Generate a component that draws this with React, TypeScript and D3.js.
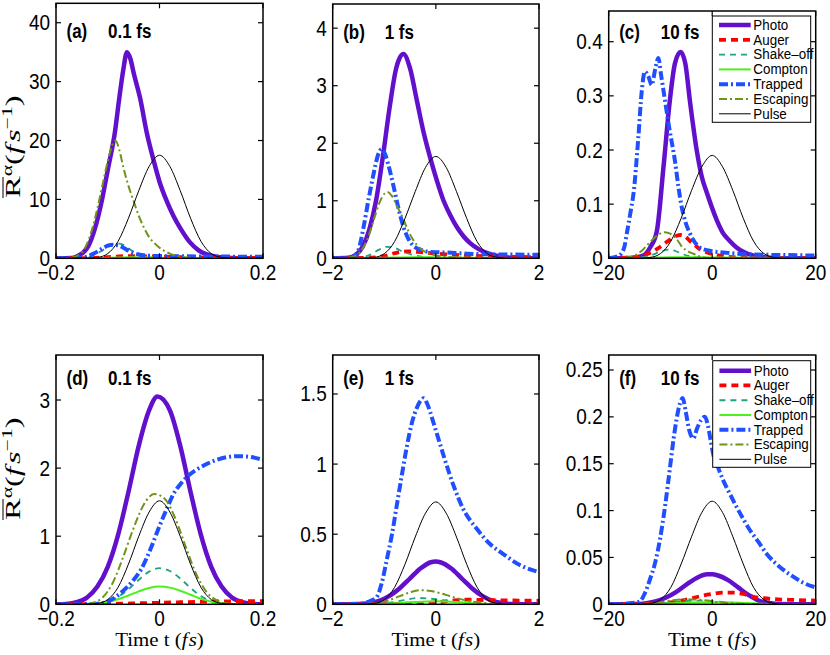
import React from 'react';
import * as d3 from 'd3';

type Pt = [number, number];

// ---------- series names ----------
const seriesNames = ['Photo', 'Auger', 'Shake\u2013off', 'Compton', 'Trapped', 'Escaping', 'Pulse'];

// ---------- panel (a) 0.1 fs ----------
const photoA: Pt[] = [[-0.2,0],[-0.17,0.05],[-0.16,0.3],[-0.145,1.2],[-0.138,2],[-0.125,5],[-0.111,10],[-0.1,15],[-0.086,21.5],[-0.078,27],[-0.07,32],[-0.063,35],[-0.056,33.8],[-0.05,31.5],[-0.037,27],[-0.025,21.5],[-0.011,16.5],[0,13],[0.015,9.5],[0.027,7.2],[0.041,5],[0.059,2.7],[0.075,1.4],[0.09,0.7],[0.11,0.25],[0.13,0.08],[0.15,0.02],[0.2,0]];
const augerA: Pt[] = [[-0.2,0],[-0.14,0.02],[-0.1,0.2],[-0.07,0.35],[-0.04,0.35],[0,0.28],[0.05,0.2],[0.1,0.12],[0.2,0.05]];
const shakeA: Pt[] = [[-0.2,0],[-0.15,0.05],[-0.13,0.4],[-0.115,1.1],[-0.1,1.9],[-0.09,2.4],[-0.08,2.55],[-0.07,2.3],[-0.06,1.7],[-0.05,1.1],[-0.04,0.6],[-0.03,0.3],[-0.015,0.12],[0,0.05],[0.05,0],[0.2,0]];
const comptonA: Pt[] = [[-0.2,0],[-0.12,0.02],[-0.08,0.12],[-0.05,0.16],[-0.02,0.12],[0.02,0.06],[0.06,0.02],[0.2,0]];
const trappedA: Pt[] = [[-0.2,0],[-0.16,0.05],[-0.14,0.3],[-0.125,0.9],[-0.11,1.7],[-0.1,2.15],[-0.09,2.3],[-0.08,2.2],[-0.07,1.8],[-0.06,1.3],[-0.05,0.9],[-0.04,0.65],[-0.03,0.5],[-0.015,0.42],[0,0.38],[0.05,0.33],[0.1,0.3],[0.15,0.28],[0.2,0.27]];
const escapeA: Pt[] = [[-0.2,0],[-0.17,0.1],[-0.15,1],[-0.14,2.5],[-0.13,5],[-0.12,8.5],[-0.11,12.5],[-0.1,16.5],[-0.09,19.5],[-0.085,20],[-0.078,18.5],[-0.07,15.5],[-0.06,12.3],[-0.05,9.7],[-0.04,7.2],[-0.03,5.2],[-0.02,3.6],[-0.01,2.6],[0,1.8],[0.02,0.8],[0.04,0.3],[0.07,0.05],[0.2,0]];
const pulseA: Pt[] = [[-0.2,0],[-0.14,0.02],[-0.12,0.15],[-0.1,0.8],[-0.08,2.9],[-0.06,6.8],[-0.04,11.5],[-0.02,15.6],[0,17.5],[0.02,15.6],[0.04,11.5],[0.06,6.8],[0.08,2.9],[0.1,0.8],[0.12,0.15],[0.14,0.02],[0.2,0]];

// ---------- panel (b) 1 fs ----------
const photoB: Pt[] = [[-2,0],[-1.7,0.01],[-1.55,0.06],[-1.42,0.2],[-1.29,0.5],[-1.16,1.0],[-1.03,1.75],[-0.9,2.6],[-0.77,3.3],[-0.63,3.55],[-0.5,3.3],[-0.37,2.75],[-0.24,2.2],[-0.11,1.75],[0.02,1.35],[0.15,1.0],[0.28,0.75],[0.41,0.54],[0.54,0.38],[0.67,0.26],[0.83,0.16],[1.0,0.09],[1.2,0.04],[1.4,0.015],[1.7,0.004],[2,0]];
const augerB: Pt[] = [[-2,0],[-1.3,0.01],[-1.0,0.04],[-0.75,0.1],[-0.55,0.12],[-0.35,0.11],[-0.1,0.09],[0.2,0.07],[0.6,0.05],[1.0,0.035],[1.5,0.025],[2,0.02]];
const shakeB: Pt[] = [[-2,0],[-1.5,0.01],[-1.3,0.05],[-1.1,0.15],[-0.95,0.2],[-0.8,0.18],[-0.6,0.1],[-0.4,0.05],[-0.2,0.02],[0.2,0.005],[2,0]];
const comptonB: Pt[] = [[-2,0],[-1.2,0.005],[-0.8,0.015],[-0.4,0.02],[0,0.015],[0.6,0.008],[2,0.003]];
const trappedB: Pt[] = [[-2,0],[-1.7,0.005],[-1.6,0.03],[-1.5,0.15],[-1.4,0.55],[-1.3,1.05],[-1.2,1.5],[-1.12,1.8],[-1.05,1.9],[-0.98,1.8],[-0.9,1.55],[-0.82,1.25],[-0.72,0.85],[-0.63,0.55],[-0.54,0.35],[-0.44,0.22],[-0.3,0.15],[-0.1,0.11],[0.2,0.1],[0.6,0.08],[1.0,0.07],[1.5,0.065],[2,0.06]];
const escapeB: Pt[] = [[-2,0],[-1.7,0.01],[-1.55,0.05],[-1.4,0.2],[-1.3,0.4],[-1.2,0.68],[-1.1,0.95],[-1.0,1.12],[-0.93,1.15],[-0.85,1.08],[-0.75,0.9],[-0.63,0.68],[-0.53,0.47],[-0.44,0.32],[-0.3,0.17],[-0.18,0.1],[0,0.05],[0.3,0.02],[0.7,0.01],[2,0]];
const pulseB: Pt[] = [[-2,0],[-1.4,0.002],[-1.2,0.015],[-1.0,0.08],[-0.8,0.29],[-0.6,0.69],[-0.4,1.16],[-0.2,1.58],[0,1.77],[0.2,1.58],[0.4,1.16],[0.6,0.69],[0.8,0.29],[1.0,0.08],[1.2,0.015],[1.4,0.002],[2,0]];

// ---------- panel (c) 10 fs ----------
const photoC: Pt[] = [[-20,0],[-15,0.001],[-13.3,0.005],[-12,0.02],[-10.7,0.05],[-9.4,0.17],[-8.2,0.29],[-7.2,0.36],[-6.1,0.381],[-5.2,0.36],[-4.3,0.29],[-3,0.2],[-2,0.15],[-1,0.12],[0.9,0.07],[2,0.048],[3.4,0.032],[4.7,0.02],[6,0.012],[8,0.005],[10,0.002],[13,0],[20,0]];
const augerC: Pt[] = [[-20,0],[-15,0.002],[-12.5,0.008],[-10.7,0.017],[-8.8,0.03],[-7.3,0.04],[-6.2,0.043],[-5.2,0.04],[-4.3,0.032],[-3.3,0.024],[-2.4,0.017],[-1,0.011],[0.9,0.006],[3,0.003],[6,0.001],[20,0]];
const shakeC: Pt[] = [[-20,0],[-14,0.001],[-12,0.005],[-10,0.012],[-8.5,0.016],[-7,0.013],[-5.5,0.007],[-4,0.003],[-2,0.001],[20,0]];
const comptonC: Pt[] = [[-20,0],[-12,0.001],[-8,0.002],[-4,0.002],[0,0.0015],[20,0.0005]];
const trappedC: Pt[] = [[-20,0],[-18,0.005],[-17,0.02],[-16.5,0.046],[-15.7,0.09],[-15.2,0.12],[-14.3,0.22],[-13.6,0.31],[-13,0.345],[-12.3,0.335],[-11.7,0.32],[-11,0.35],[-10.4,0.37],[-9.9,0.34],[-9.1,0.29],[-8.2,0.235],[-7.2,0.18],[-6.5,0.13],[-5.9,0.095],[-5.1,0.065],[-4.3,0.046],[-2.7,0.022],[-1,0.015],[3,0.01],[8,0.007],[14,0.006],[20,0.005]];
const escapeC: Pt[] = [[-20,0],[-17,0.001],[-15,0.005],[-13.5,0.015],[-12,0.03],[-10.5,0.043],[-9.2,0.048],[-8,0.045],[-7,0.037],[-5.8,0.021],[-4.5,0.012],[-3,0.006],[-2,0.002],[0,0],[20,0]];
const pulseC: Pt[] = [[-20,0],[-14,0.0002],[-12,0.0016],[-10,0.0087],[-8,0.0315],[-6,0.074],[-4,0.125],[-2,0.169],[0,0.19],[2,0.169],[4,0.125],[6,0.074],[8,0.0315],[10,0.0087],[12,0.0016],[14,0.0002],[20,0]];

// ---------- panel (d) 0.1 fs ----------
const photoD: Pt[] = [[-0.2,0],[-0.18,0.005],[-0.16,0.03],[-0.14,0.1],[-0.12,0.26],[-0.1,0.55],[-0.08,1.02],[-0.06,1.65],[-0.04,2.33],[-0.02,2.85],[-0.004,3.05],[0.02,2.85],[0.04,2.33],[0.06,1.65],[0.08,1.02],[0.1,0.55],[0.12,0.26],[0.14,0.1],[0.16,0.03],[0.18,0.005],[0.2,0]];
const augerD: Pt[] = [[-0.2,0],[-0.12,0.002],[-0.08,0.008],[-0.04,0.015],[0,0.022],[0.04,0.03],[0.08,0.038],[0.12,0.043],[0.16,0.045],[0.2,0.046]];
const shakeD: Pt[] = [[-0.2,0],[-0.14,0.002],[-0.12,0.01],[-0.1,0.04],[-0.08,0.11],[-0.06,0.22],[-0.04,0.36],[-0.02,0.48],[0,0.53],[0.02,0.49],[0.04,0.38],[0.06,0.24],[0.08,0.12],[0.1,0.05],[0.12,0.015],[0.14,0.003],[0.2,0]];
const comptonD: Pt[] = [[-0.2,0],[-0.14,0.003],[-0.12,0.012],[-0.1,0.035],[-0.08,0.075],[-0.06,0.13],[-0.04,0.19],[-0.02,0.24],[0,0.26],[0.02,0.245],[0.04,0.2],[0.06,0.14],[0.08,0.08],[0.1,0.038],[0.12,0.014],[0.14,0.004],[0.2,0]];
const trappedD: Pt[] = [[-0.2,0],[-0.14,0.003],[-0.12,0.01],[-0.1,0.04],[-0.076,0.16],[-0.05,0.36],[-0.035,0.52],[-0.018,0.8],[0,1.15],[0.015,1.42],[0.027,1.62],[0.04,1.76],[0.053,1.87],[0.07,1.97],[0.091,2.06],[0.11,2.12],[0.13,2.16],[0.15,2.175],[0.168,2.17],[0.185,2.15],[0.2,2.12]];
const escapeD: Pt[] = [[-0.2,0],[-0.15,0.002],[-0.13,0.02],[-0.11,0.1],[-0.09,0.32],[-0.07,0.7],[-0.05,1.12],[-0.03,1.47],[-0.01,1.62],[0.01,1.55],[0.03,1.27],[0.05,0.86],[0.07,0.46],[0.09,0.19],[0.11,0.06],[0.13,0.01],[0.2,0]];
const pulseD: Pt[] = [[-0.2,0],[-0.14,0.002],[-0.12,0.013],[-0.1,0.07],[-0.08,0.25],[-0.06,0.59],[-0.04,1.0],[-0.02,1.355],[0,1.52],[0.02,1.355],[0.04,1.0],[0.06,0.59],[0.08,0.25],[0.1,0.07],[0.12,0.013],[0.14,0.002],[0.2,0]];

// ---------- panel (e) 1 fs ----------
const photoE: Pt[] = [[-2,0],[-1.5,0.002],[-1.3,0.008],[-1.1,0.025],[-0.9,0.06],[-0.7,0.115],[-0.5,0.185],[-0.3,0.255],[-0.1,0.3],[0,0.305],[0.1,0.298],[0.3,0.255],[0.5,0.185],[0.7,0.115],[0.9,0.06],[1.1,0.025],[1.3,0.008],[1.5,0.002],[2,0]];
const augerE: Pt[] = [[-2,0],[-1.0,0.001],[-0.5,0.005],[0,0.013],[0.3,0.025],[0.6,0.033],[1.0,0.03],[1.5,0.027],[2,0.025]];
const shakeE: Pt[] = [[-2,0],[-1.2,0.002],[-0.9,0.012],[-0.6,0.03],[-0.35,0.045],[-0.1,0.04],[0.2,0.025],[0.5,0.012],[0.8,0.004],[1.2,0.001],[2,0]];
const comptonE: Pt[] = [[-2,0],[-1.2,0.001],[-0.8,0.007],[-0.4,0.017],[0,0.022],[0.4,0.017],[0.8,0.007],[1.2,0.001],[2,0]];
const trappedE: Pt[] = [[-2,0],[-1.5,0.003],[-1.3,0.02],[-1.15,0.05],[-1.05,0.15],[-0.95,0.32],[-0.85,0.5],[-0.76,0.7],[-0.66,0.92],[-0.56,1.13],[-0.46,1.3],[-0.37,1.4],[-0.28,1.46],[-0.24,1.47],[-0.18,1.44],[-0.05,1.3],[0.05,1.18],[0.15,1.06],[0.34,0.85],[0.53,0.68],[0.79,0.54],[1.05,0.43],[1.3,0.36],[1.63,0.28],[2,0.23]];
const escapeE: Pt[] = [[-2,0],[-1.4,0.002],[-1.1,0.012],[-0.9,0.03],[-0.7,0.058],[-0.5,0.085],[-0.3,0.1],[-0.1,0.095],[0.1,0.078],[0.3,0.055],[0.5,0.035],[0.7,0.02],[0.9,0.01],[1.2,0.003],[2,0]];
const pulseE: Pt[] = [[-2,0],[-1.4,0.001],[-1.2,0.006],[-1.0,0.033],[-0.8,0.121],[-0.6,0.284],[-0.4,0.48],[-0.2,0.65],[0,0.73],[0.2,0.65],[0.4,0.48],[0.6,0.284],[0.8,0.121],[1.0,0.033],[1.2,0.006],[1.4,0.001],[2,0]];

// ---------- panel (f) 10 fs ----------
const photoF: Pt[] = [[-20,0],[-15,0.0003],[-13,0.001],[-11,0.003],[-9,0.007],[-7,0.013],[-5,0.021],[-3,0.028],[-1,0.032],[0,0.032],[1,0.031],[3,0.026],[5,0.018],[7,0.01],[9,0.004],[11,0.0015],[13,0.0004],[20,0]];
const augerF: Pt[] = [[-20,0],[-12,0.0005],[-8,0.002],[-5,0.005],[-2,0.009],[0,0.011],[2,0.0125],[4,0.0125],[6,0.011],[8,0.008],[10,0.0065],[12,0.0055],[15,0.0048],[20,0.004]];
const shakeF: Pt[] = [[-20,0],[-12,0.0005],[-8,0.002],[-5,0.0035],[-2,0.004],[0,0.0035],[3,0.002],[6,0.0008],[10,0.0002],[20,0]];
const comptonF: Pt[] = [[-20,0],[-12,0.0003],[-8,0.001],[-4,0.002],[0,0.0022],[4,0.002],[8,0.001],[12,0.0003],[20,0]];
const trappedF: Pt[] = [[-20,0],[-16,0.001],[-14,0.003],[-13,0.012],[-12,0.027],[-11,0.045],[-10.1,0.069],[-9.1,0.105],[-8.2,0.144],[-7.5,0.175],[-6.9,0.197],[-6.2,0.215],[-5.7,0.22],[-5.1,0.205],[-4.4,0.185],[-3.65,0.177],[-2.9,0.188],[-2.1,0.197],[-1.4,0.2],[-0.8,0.19],[-0.3,0.175],[0.2,0.16],[1.2,0.145],[2.15,0.132],[3.4,0.118],[4.7,0.104],[6,0.091],[7.3,0.079],[9,0.066],[10.5,0.054],[12,0.045],[13.7,0.037],[15.5,0.03],[17.6,0.023],[20,0.018]];
const escapeF: Pt[] = [[-20,0],[-14,0.0003],[-11,0.0015],[-8,0.004],[-5,0.0055],[-3,0.005],[-1,0.004],[1,0.0025],[3,0.0015],[6,0.0005],[20,0]];
const pulseF: Pt[] = [[-20,0],[-14,0.0001],[-12,0.0009],[-10,0.005],[-8,0.018],[-6,0.043],[-4,0.072],[-2,0.098],[0,0.11],[2,0.098],[4,0.072],[6,0.043],[8,0.018],[10,0.005],[12,0.0009],[14,0.0001],[20,0]];

// ---------- ticks ----------
const xTicks01 = [-0.2, 0, 0.2];
const xTicks1 = [-2, 0, 2];
const xTicks10 = [-20, 0, 20];
const yTicksA = [0, 10, 20, 30, 40];
const yTicksB = [0, 1, 2, 3, 4];
const yTicksC = [0, 0.1, 0.2, 0.3, 0.4];
const yTicksD = [0, 1, 2, 3];
const yTicksE = [0, 0.5, 1, 1.5];
const yTicksF = [0, 0.05, 0.1, 0.15, 0.2, 0.25];

const panelTags = ['(a)', '(b)', '(c)', '(d)', '(e)', '(f)'];
const durations = ['0.1 fs', '1 fs', '10 fs', '0.1 fs', '1 fs', '10 fs'];

// ---------- styles ----------
const seriesStyles = [
  { color: '#6210cc', width: 4.5, dash: '' },
  { color: '#ff0000', width: 3.8, dash: '7,5' },
  { color: '#1fa382', width: 1.8, dash: '6,5' },
  { color: '#4cf01a', width: 2, dash: '' },
  { color: '#1f4fff', width: 4, dash: '9,3,2,3' },
  { color: '#6f9418', width: 2, dash: '8,3,2,3' },
  { color: '#000000', width: 1, dash: '' },
];

type Legend = { x0: number; x1: number; y0: number; y1: number; r0: number; dr: number };

const panels = [
  { x0: 56, x1: 263, yb: 258.3, yt: 3.3, xd: [-0.2, 0.2], ytop: 43.3, xt: xTicks01, yt2: yTicksA, data: [photoA, augerA, shakeA, comptonA, trappedA, escapeA, pulseA], titleY: 38, legend: null as null | Legend },
  { x0: 332.7, x1: 539, yb: 258.3, yt: 4, xd: [-2, 2], ytop: 4.42, xt: xTicks1, yt2: yTicksB, data: [photoB, augerB, shakeB, comptonB, trappedB, escapeB, pulseB], titleY: 39.3, legend: null as null | Legend },
  { x0: 608.7, x1: 815.7, yb: 258.3, yt: 11, xd: [-20, 20], ytop: 0.4567, xt: xTicks10, yt2: yTicksC, data: [photoC, augerC, shakeC, comptonC, trappedC, escapeC, pulseC], titleY: 39.3, legend: { x0: 712.3, x1: 810.7, y0: 16, y1: 122.3, r0: 25, dr: 14.8 } as null | Legend },
  { x0: 56, x1: 263, yb: 604.3, yt: 355, xd: [-0.2, 0.2], ytop: 3.661, xt: xTicks01, yt2: yTicksD, data: [photoD, augerD, shakeD, comptonD, trappedD, escapeD, pulseD], titleY: 385, legend: null as null | Legend },
  { x0: 332.7, x1: 539, yb: 604.3, yt: 355, xd: [-2, 2], ytop: 1.778, xt: xTicks1, yt2: yTicksE, data: [photoE, augerE, shakeE, comptonE, trappedE, escapeE, pulseE], titleY: 385, legend: null as null | Legend },
  { x0: 608.7, x1: 815.7, yb: 604.3, yt: 355, xd: [-20, 20], ytop: 0.266, xt: xTicks10, yt2: yTicksF, data: [photoF, augerF, shakeF, comptonF, trappedF, escapeF, pulseF], titleY: 385, legend: { x0: 712.7, x1: 810.7, y0: 360.7, y1: 467.3, r0: 370.7, dr: 14.77 } as null | Legend },
];

const fmt = (v: number) => String(v).replace('-', '\u2212');
const sans = '"Liberation Sans", Arial, Helvetica, sans-serif';
const serif = '"Liberation Serif", "Times New Roman", serif';

// text that is slightly stretched vertically, like the original figure
function SText({ x, y, k = 1.12, children, ...rest }: any) {
  return (
    <text transform={`translate(${x},${y}) scale(1,${k})`} x={0} y={0} {...rest}>{children}</text>
  );
}

function Panel({ p, idx }: { p: typeof panels[number]; idx: number }) {
  const xs = d3.scaleLinear().domain(p.xd).range([p.x0, p.x1]);
  const ys = d3.scaleLinear().domain([0, p.ytop]).range([p.yb, p.yt]);
  const line = d3.line<Pt>().x(d => xs(d[0])).y(d => ys(d[1])).curve(d3.curveMonotoneX);
  const clipId = `clip${idx}`;
  const tl = 5;
  const lg = p.legend;
  return (
    <g>
      <defs>
        <clipPath id={clipId}>
          <rect x={p.x0} y={p.yt} width={p.x1 - p.x0} height={p.yb - p.yt} />
        </clipPath>
      </defs>
      <rect x={p.x0} y={p.yt} width={p.x1 - p.x0} height={p.yb - p.yt} fill="#fff" />
      <g clipPath={`url(#${clipId})`}>
        {p.data.map((d, i) => (
          <path key={i} d={line(d) || ''} fill="none" stroke={seriesStyles[i].color}
            strokeWidth={seriesStyles[i].width} strokeDasharray={seriesStyles[i].dash || undefined}
            strokeLinejoin="round" />
        ))}
      </g>
      {p.yt2.map(v => (
        <g key={'y' + v}>
          <line x1={p.x0} x2={p.x0 + tl} y1={ys(v)} y2={ys(v)} stroke="#000" strokeWidth={1.2} />
          <line x1={p.x1} x2={p.x1 - tl} y1={ys(v)} y2={ys(v)} stroke="#000" strokeWidth={1.2} />
          <SText x={p.x0 - 6} y={ys(v) + 7.5} textAnchor="end" fontFamily={sans} fontSize={19}>{fmt(v)}</SText>
        </g>
      ))}
      {p.xt.map(v => (
        <g key={'x' + v}>
          <line x1={xs(v)} x2={xs(v)} y1={p.yb} y2={p.yb - tl} stroke="#000" strokeWidth={1.2} />
          <line x1={xs(v)} x2={xs(v)} y1={p.yt} y2={p.yt + tl} stroke="#000" strokeWidth={1.2} />
          <SText x={xs(v)} y={p.yb + 22} textAnchor="middle" fontFamily={sans} fontSize={19}>{fmt(v)}</SText>
        </g>
      ))}
      <rect x={p.x0} y={p.yt} width={p.x1 - p.x0} height={p.yb - p.yt} fill="none" stroke="#000" strokeWidth={1.5} />
      <SText x={p.x0 + 10.5} y={p.titleY} k={1.15} fontFamily={sans} fontWeight="bold" fontSize={17}>{panelTags[idx]}</SText>
      <SText x={p.x0 + 52} y={p.titleY} k={1.15} fontFamily={sans} fontWeight="bold" fontSize={17}>{durations[idx]}</SText>
      {lg && (
        <g>
          <rect x={lg.x0} y={lg.y0} width={lg.x1 - lg.x0} height={lg.y1 - lg.y0}
            fill="#fff" stroke="#000" strokeWidth={1} />
          {seriesNames.map((n, i) => {
            const y = lg.r0 + i * lg.dr;
            const st = seriesStyles[i];
            return (
              <g key={n}>
                <line x1={lg.x0 + 6.7} x2={lg.x0 + 38.4} y1={y} y2={y} stroke={st.color}
                  strokeWidth={st.width} strokeDasharray={st.dash || undefined} />
                <SText x={lg.x0 + 41} y={y + 4.8} k={1.12} fontFamily={sans} fontSize={13.4}>{n}</SText>
              </g>
            );
          })}
        </g>
      )}
    </g>
  );
}

function YLabel({ cy }: { cy: number }) {
  const s = 1.55;
  return (
    <g transform={`translate(20,${cy}) rotate(-90) scale(${s},1)`}>
      <text x={-52 / s} y={0} fontFamily={serif} fontSize={21}>
        <tspan>R</tspan>
        <tspan dy={-8} fontSize={14}>{'\u03B1'}</tspan>
        <tspan dy={8}>(</tspan>
        <tspan fontStyle="italic">f</tspan>
        <tspan fontStyle="italic" dx={2}>s</tspan>
        <tspan dy={-8} fontSize={14}>{'\u22121'}</tspan>
        <tspan dy={8}>)</tspan>
      </text>
      <line x1={-52 / s} x2={-52 / s + 13.5} y1={-17} y2={-17} stroke="#000" strokeWidth={1} />
    </g>
  );
}

function XLabel({ cx }: { cx: number }) {
  return (
    <text transform={`translate(${cx},646) scale(1.1,1)`} x={0} y={0} textAnchor="middle" fontFamily={serif} fontSize={19}>
      Time t (<tspan fontStyle="italic">f</tspan><tspan fontStyle="italic" dx={1}>s</tspan>)
    </text>
  );
}

export default function App() {
  return (
    <svg width={830} height={655} style={{ position: 'absolute', left: 0, top: 0, background: '#fff' }}>
      <rect x={0} y={0} width={830} height={655} fill="#fff" />
      {panels.map((p, i) => <Panel key={i} p={p} idx={i} />)}
      <YLabel cy={146} />
      <YLabel cy={468} />
      <XLabel cx={159.5} />
      <XLabel cx={435.8} />
      <XLabel cx={712.2} />
    </svg>
  );
}
